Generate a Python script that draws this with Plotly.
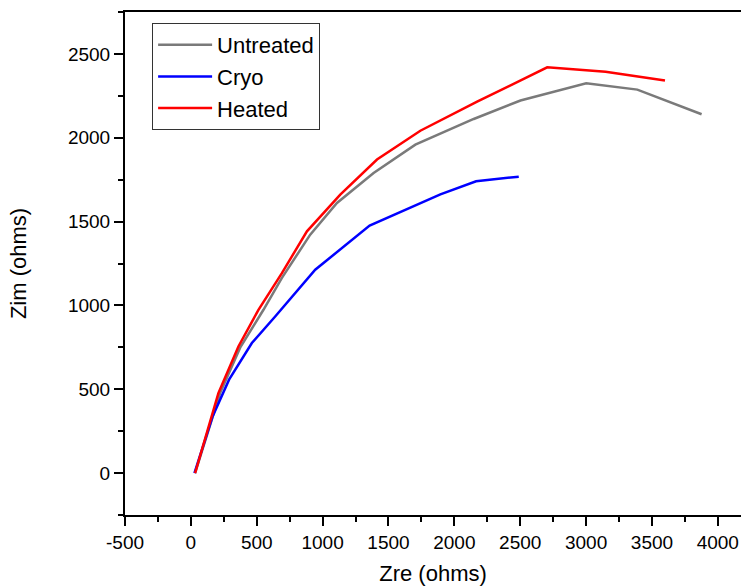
import plotly.graph_objects as go

untreated_x = [32, 222, 374, 551, 690, 906, 1109, 1387, 1704, 2147, 2502, 3001, 3389, 3877]
untreated_y = [0, 477, 748, 974, 1163, 1422, 1611, 1790, 1959, 2112, 2222, 2325, 2287, 2140]

cryo_x = [27, 165, 290, 463, 640, 792, 944, 1357, 1894, 2165, 2489]
cryo_y = [0, 338, 557, 776, 934, 1074, 1213, 1476, 1662, 1740, 1768]

heated_x = [32, 209, 361, 513, 691, 881, 1134, 1413, 1742, 2173, 2705, 3148, 3599]
heated_y = [0, 477, 755, 974, 1193, 1442, 1661, 1870, 2042, 2215, 2420, 2393, 2341]

x_ticks = [-500, 0, 500, 1000, 1500, 2000, 2500, 3000, 3500, 4000]
x_ticklabels = ["-500", "0", "500", "1000", "1500", "2000", "2500", "3000", "3500", "4000"]
y_ticks = [0, 500, 1000, 1500, 2000, 2500]
y_ticklabels = ["0", "500", "1000", "1500", "2000", "2500"]

FONT = "Arial, Liberation Sans, sans-serif"

fig = go.Figure()
fig.add_trace(go.Scatter(x=untreated_x, y=untreated_y, mode="lines", name="Untreated",
                         line=dict(color="#7a7a7a", width=2.5)))
fig.add_trace(go.Scatter(x=cryo_x, y=cryo_y, mode="lines", name="Cryo",
                         line=dict(color="#0000ff", width=2.5)))
fig.add_trace(go.Scatter(x=heated_x, y=heated_y, mode="lines", name="Heated",
                         line=dict(color="#ff0000", width=2.5)))

axis_font = dict(family=FONT, size=19, color="black")
fig.update_layout(
    width=741, height=586,
    margin=dict(l=125, r=0, t=12, b=71),
    paper_bgcolor="white", plot_bgcolor="white",
    font=dict(family=FONT, color="black"),
    showlegend=True,
    legend=dict(x=0.044, y=0.978, xanchor="left", yanchor="top",
                bordercolor="#333333", borderwidth=1, bgcolor="white",
                font=dict(family=FONT, size=22, color="black"),
                tracegroupgap=0, itemwidth=54),
    xaxis=dict(range=[-500, 4176], tickmode="array", tickvals=x_ticks, ticktext=x_ticklabels,
               showgrid=False, zeroline=False, automargin=False,
               showline=True, linecolor="black", linewidth=2, mirror=True,
               ticks="outside", ticklen=9, tickwidth=1.5, tickcolor="black",
               tickfont=axis_font,
               minor=dict(dtick=250, tick0=-500, ticks="outside", ticklen=5, tickwidth=1.5, tickcolor="black"),
               title=dict(text="Zre (ohms)", font=dict(family=FONT, size=22, color="black"),
                          standoff=16)),
    yaxis=dict(range=[-250, 2750], tickmode="array", tickvals=y_ticks, ticktext=y_ticklabels,
               showgrid=False, zeroline=False, automargin=False,
               showline=True, linecolor="black", linewidth=2, mirror=False,
               ticks="outside", ticklen=9, tickwidth=1.5, tickcolor="black",
               tickfont=axis_font,
               minor=dict(dtick=250, tick0=0, ticks="outside", ticklen=5, tickwidth=1.5, tickcolor="black"),
               title=dict(text="Zim (ohms)", font=dict(family=FONT, size=22, color="black"),
                          standoff=35)),
)

fig.write_html("out.html", config={"displayModeBar": False},
               post_script="document.body.style.margin='0';document.body.style.overflow='hidden';")
